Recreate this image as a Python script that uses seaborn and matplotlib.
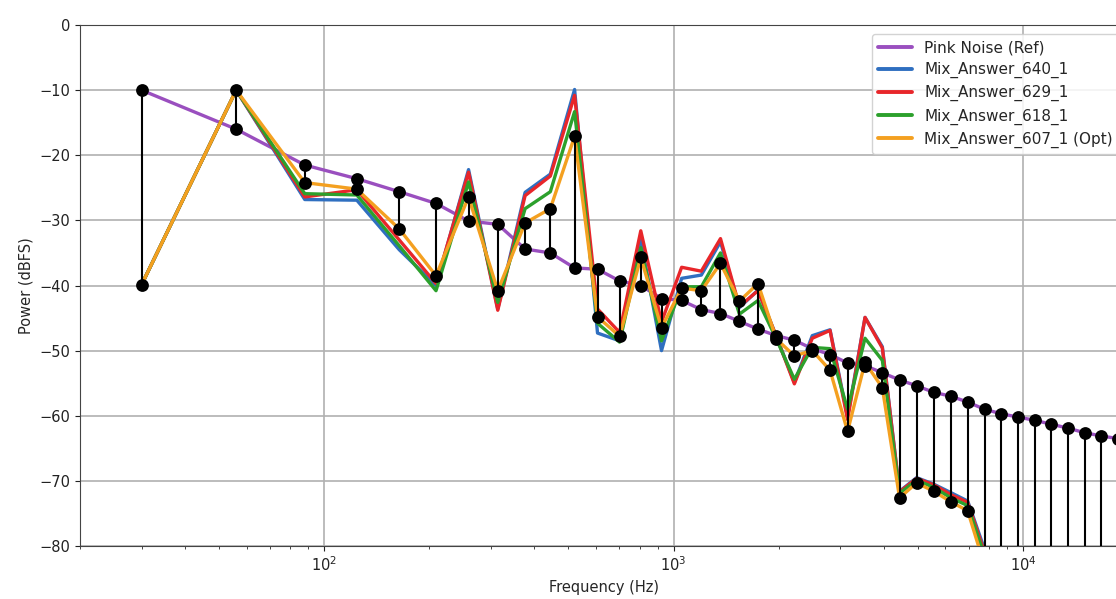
import numpy as np
import pandas as pd
import matplotlib
matplotlib.use("Agg")
import matplotlib.pyplot as plt
import seaborn as sns

# --- band centre frequencies (Hz)
freqs = [30, 56, 88, 124, 164, 209, 259, 314, 376, 444, 521, 606, 701, 806, 924,
         1055, 1201, 1363, 1544, 1745, 1969, 2218, 2496, 2806, 3150, 3534, 3961,
         4437, 4966, 5556, 6221, 6953, 7768, 8676, 9687, 10813, 12067, 13464,
         15018, 16750, 18677]

pinkRef = [-10.0, -16.0, -21.5, -23.6, -25.6, -27.4, -30.1, -30.6, -34.4, -35.0,
           -37.3, -37.5, -39.3, -40.0, -42.0, -42.3, -43.7, -44.3, -45.5, -46.7,
           -47.7, -48.4, -49.7, -50.6, -51.9, -52.3, -53.4, -54.5, -55.4, -56.4,
           -57.0, -57.9, -59.0, -59.7, -60.2, -60.7, -61.3, -61.9, -62.6, -63.1, -63.5]

mix640 = [-39.9, -10.0, -26.8, -26.9, -34.5, -40.0, -22.2, -43.6, -25.7, -22.9,
          -9.9, -47.3, -48.5, -33.0, -50.0, -38.9, -38.4, -33.3, -43.4, -40.7,
          -47.8, -54.9, -47.7, -46.8, -60.2, -44.9, -49.4, -71.6, -69.5, -70.5,
          -71.8, -73.1, -80.5, -100, -100, -100, -100, -100, -100, -100, -100]

mix629 = [-39.9, -10.0, -26.4, -25.3, -33.0, -39.7, -22.6, -43.8, -26.2, -23.2,
          -10.8, -43.6, -47.2, -31.6, -45.6, -37.2, -37.8, -32.8, -43.2, -40.8,
          -47.8, -55.1, -48.1, -46.9, -60.6, -44.9, -49.6, -71.7, -69.6, -70.6,
          -72.1, -73.3, -81.0, -100, -100, -100, -100, -100, -100, -100, -100]

mix618 = [-39.9, -10.0, -25.9, -26.1, -33.9, -40.8, -24.1, -42.6, -28.2, -25.6,
          -13.3, -45.8, -48.7, -34.2, -48.5, -40.2, -40.2, -35.0, -44.4, -42.3,
          -48.2, -54.4, -49.5, -49.7, -59.0, -48.1, -51.5, -71.9, -69.9, -71.0,
          -72.6, -73.8, -81.5, -100, -100, -100, -100, -100, -100, -100, -100]

mix607 = [-39.9, -10.0, -24.2, -25.2, -31.3, -38.5, -26.4, -40.8, -30.4, -28.2,
          -17.1, -44.8, -47.8, -35.7, -46.5, -40.4, -40.8, -36.6, -42.4, -39.7,
          -48.2, -50.8, -50.0, -53.0, -62.4, -51.8, -55.7, -72.6, -70.3, -71.6,
          -73.2, -74.6, -83.0, -100, -100, -100, -100, -100, -100, -100, -100]

seriesList = [
    ("Pink Noise (Ref)", pinkRef, "#9a4fbf"),
    ("Mix_Answer_640_1", mix640, "#2f6fc0"),
    ("Mix_Answer_629_1", mix629, "#e8262a"),
    ("Mix_Answer_618_1", mix618, "#2ca02c"),
    ("Mix_Answer_607_1 (Opt)", mix607, "#f4a020"),
]

sns.set_style("ticks")
plt.rcParams["font.family"] = ["DejaVu Sans"]

fig = plt.figure(figsize=(11.16, 5.99), dpi=100)
# --- axes run past the right edge, the source image is cropped there
ax = fig.add_axes([80 / 1116, 53 / 599, 1048 / 1116, 521 / 599])

for (name, vals, col) in seriesList:
    sns.lineplot(x=freqs, y=vals, ax=ax, color=col, linewidth=2.4, label=name,
                 sort=False, zorder=2)

# --- distance from reference to the optimum answer
ax.vlines(freqs, pinkRef, mix607, colors="black", linewidth=1.5, zorder=3)
dfDots = pd.DataFrame({"f": freqs * 2, "p": pinkRef + mix607})
sns.scatterplot(data=dfDots, x="f", y="p", ax=ax, color="black", s=85,
                edgecolor="black", linewidth=0, zorder=4, legend=False)

ax.set_xscale("log")
ax.set_xlim(20, 20000)
ax.set_ylim(-80, 0)
ax.set_yticks(np.arange(-80, 1, 10))
ax.grid(True, which="major", color="#b0b0b0", linewidth=1.2)
ax.set_axisbelow(True)
ax.tick_params(labelsize=10.5, colors="#222222")
ax.tick_params(which="minor", length=2.5)
ax.set_xlabel("Frequency (Hz)", fontsize=10.5)
ax.set_ylabel("Power (dBFS)", fontsize=10.5)
for sp in ax.spines.values():
    sp.set_color("#444444")

leg = ax.legend(loc="upper right", fontsize=11, handlelength=2.2,
                borderaxespad=0.6, framealpha=0.85, labelspacing=0.45)
for ln in leg.get_lines():
    ln.set_linewidth(2.8)

plt.savefig("out.png", dpi=100)
plt.close()
